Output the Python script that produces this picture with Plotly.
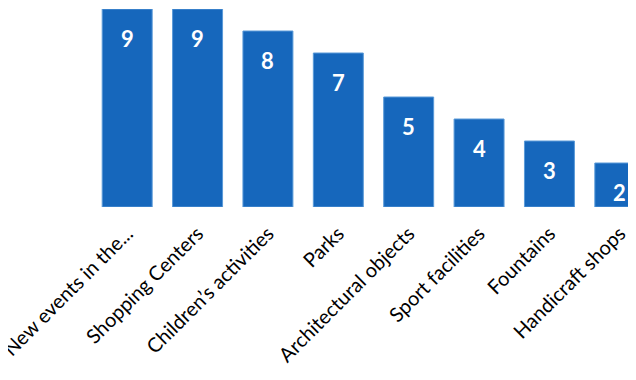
import plotly.graph_objects as go

categories = ["New events in the...", "Shopping Centers", "Children’s activities", "Parks",
              "Architectural objects", "Sport facilities", "Fountains", "Handicraft shops"]
values = [9, 9, 8, 7, 5, 4, 3, 2]

fig = go.Figure()
fig.add_trace(go.Bar(
    x=categories, y=values,
    marker=dict(color="#1667BC", line=dict(color="#5A9AD8", width=1)),
    hoverinfo="skip",
))
for c, v in zip(categories, values):
    fig.add_annotation(x=c, y=v, text=f"<b>{v}</b>", showarrow=False,
                       yanchor="top", yshift=-14,
                       font=dict(family="Lato", size=22, color="white"))

# page body has an 8px default margin; compensate so the plot sits where the reference has it
fig.update_layout(
    width=628, height=372,
    margin=dict(l=84, r=0, t=1, b=173, autoexpand=False),
    paper_bgcolor="white", plot_bgcolor="white",
    bargap=0.29, showlegend=False,
    font=dict(family="Lato", size=20, color="black"),
)
fig.update_xaxes(range=[-0.5, 7.23], tickangle=-45, showline=False, ticks="",
                 automargin=False, showgrid=False, ticklabelstandoff=10,
                 tickfont=dict(family="Lato", size=20, color="black"))
fig.update_yaxes(range=[0, 9], visible=False, showgrid=False, automargin=False)
fig.write_html("out.html")
